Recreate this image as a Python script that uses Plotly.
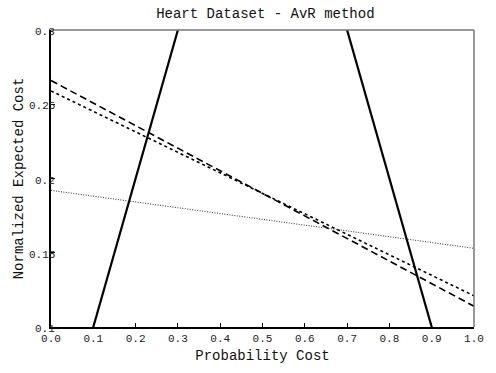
import plotly.graph_objects as go

prob_cost = [0.0, 1.0]
always_pos = [0.0, 1.0]
always_neg = [1.0, 0.0]
clf_long_dash = [0.266, 0.114]
clf_short_dash = [0.259, 0.121]
clf_dotted = [0.192, 0.153]

x_ticks = [0.0, 0.1, 0.2, 0.3, 0.4, 0.5, 0.6, 0.7, 0.8, 0.9, 1.0]
x_tick_text = ["0.0", "0.1", "0.2", "0.3", "0.4", "0.5", "0.6", "0.7", "0.8", "0.9", "1.0"]
y_ticks = [0.1, 0.15, 0.2, 0.25, 0.3]
y_tick_text = ["0.1", "0.15", "0.2", "0.25", "0.3"]

FONT = "Liberation Mono, Courier New, monospace"

fig = go.Figure()
fig.add_trace(go.Scatter(x=prob_cost, y=always_pos, mode="lines",
                         line=dict(color="black", width=2.2)))
fig.add_trace(go.Scatter(x=prob_cost, y=always_neg, mode="lines",
                         line=dict(color="black", width=2.2)))
fig.add_trace(go.Scatter(x=prob_cost, y=clf_long_dash, mode="lines",
                         line=dict(color="black", width=1.6, dash="7px,4px")))
fig.add_trace(go.Scatter(x=prob_cost, y=clf_short_dash, mode="lines",
                         line=dict(color="black", width=1.6, dash="3px,3px")))
fig.add_trace(go.Scatter(x=prob_cost, y=clf_dotted, mode="lines",
                         line=dict(color="#444444", width=1.1, dash="1px,1.5px")))

annotations = []
for v, t in zip(y_ticks, y_tick_text):
    annotations.append(dict(x=0, xref="paper", y=v, yref="y", text=t,
                            showarrow=False, xanchor="right", yanchor="middle",
                            xshift=6, yshift=-2,
                            font=dict(family=FONT, size=11, color="#222")))

fig.update_layout(
    width=496, height=373,
    margin=dict(l=51, r=16, t=30, b=42),
    paper_bgcolor="white", plot_bgcolor="white",
    showlegend=False,
    title=dict(text="Heart Dataset - AvR method", x=0.535, xanchor="center",
               y=0.965, yanchor="middle",
               font=dict(family=FONT, size=14, color="#111")),
    font=dict(family=FONT, size=11, color="#222"),
    annotations=annotations,
    shapes=[
        dict(type="line", xref="paper", yref="paper", x0=0, x1=1, y0=1, y1=1,
             line=dict(color="#777777", width=1.5)),
        dict(type="line", xref="paper", yref="paper", x0=1, x1=1, y0=0, y1=1,
             line=dict(color="#777777", width=1.5)),
    ],
)
fig.update_xaxes(range=[0, 1], tickvals=x_ticks, ticktext=x_tick_text,
                 ticks="inside", ticklen=4, tickcolor="black", tickwidth=1,
                 showline=True, linecolor="black", linewidth=1.8,
                 showgrid=False, zeroline=False,
                 tickfont=dict(family=FONT, size=11, color="#222"),
                 title=dict(text="Probability Cost", standoff=6,
                            font=dict(family=FONT, size=14, color="#111")))
fig.update_yaxes(range=[0.1, 0.3], tickvals=y_ticks, showticklabels=False,
                 ticks="inside", ticklen=4, tickcolor="black", tickwidth=1,
                 showline=True, linecolor="black", linewidth=1.8,
                 showgrid=False, zeroline=False,
                 title=dict(text="Normalized Expected Cost", standoff=22,
                            font=dict(family=FONT, size=14, color="#111")))

fig.write_html("out.html")
